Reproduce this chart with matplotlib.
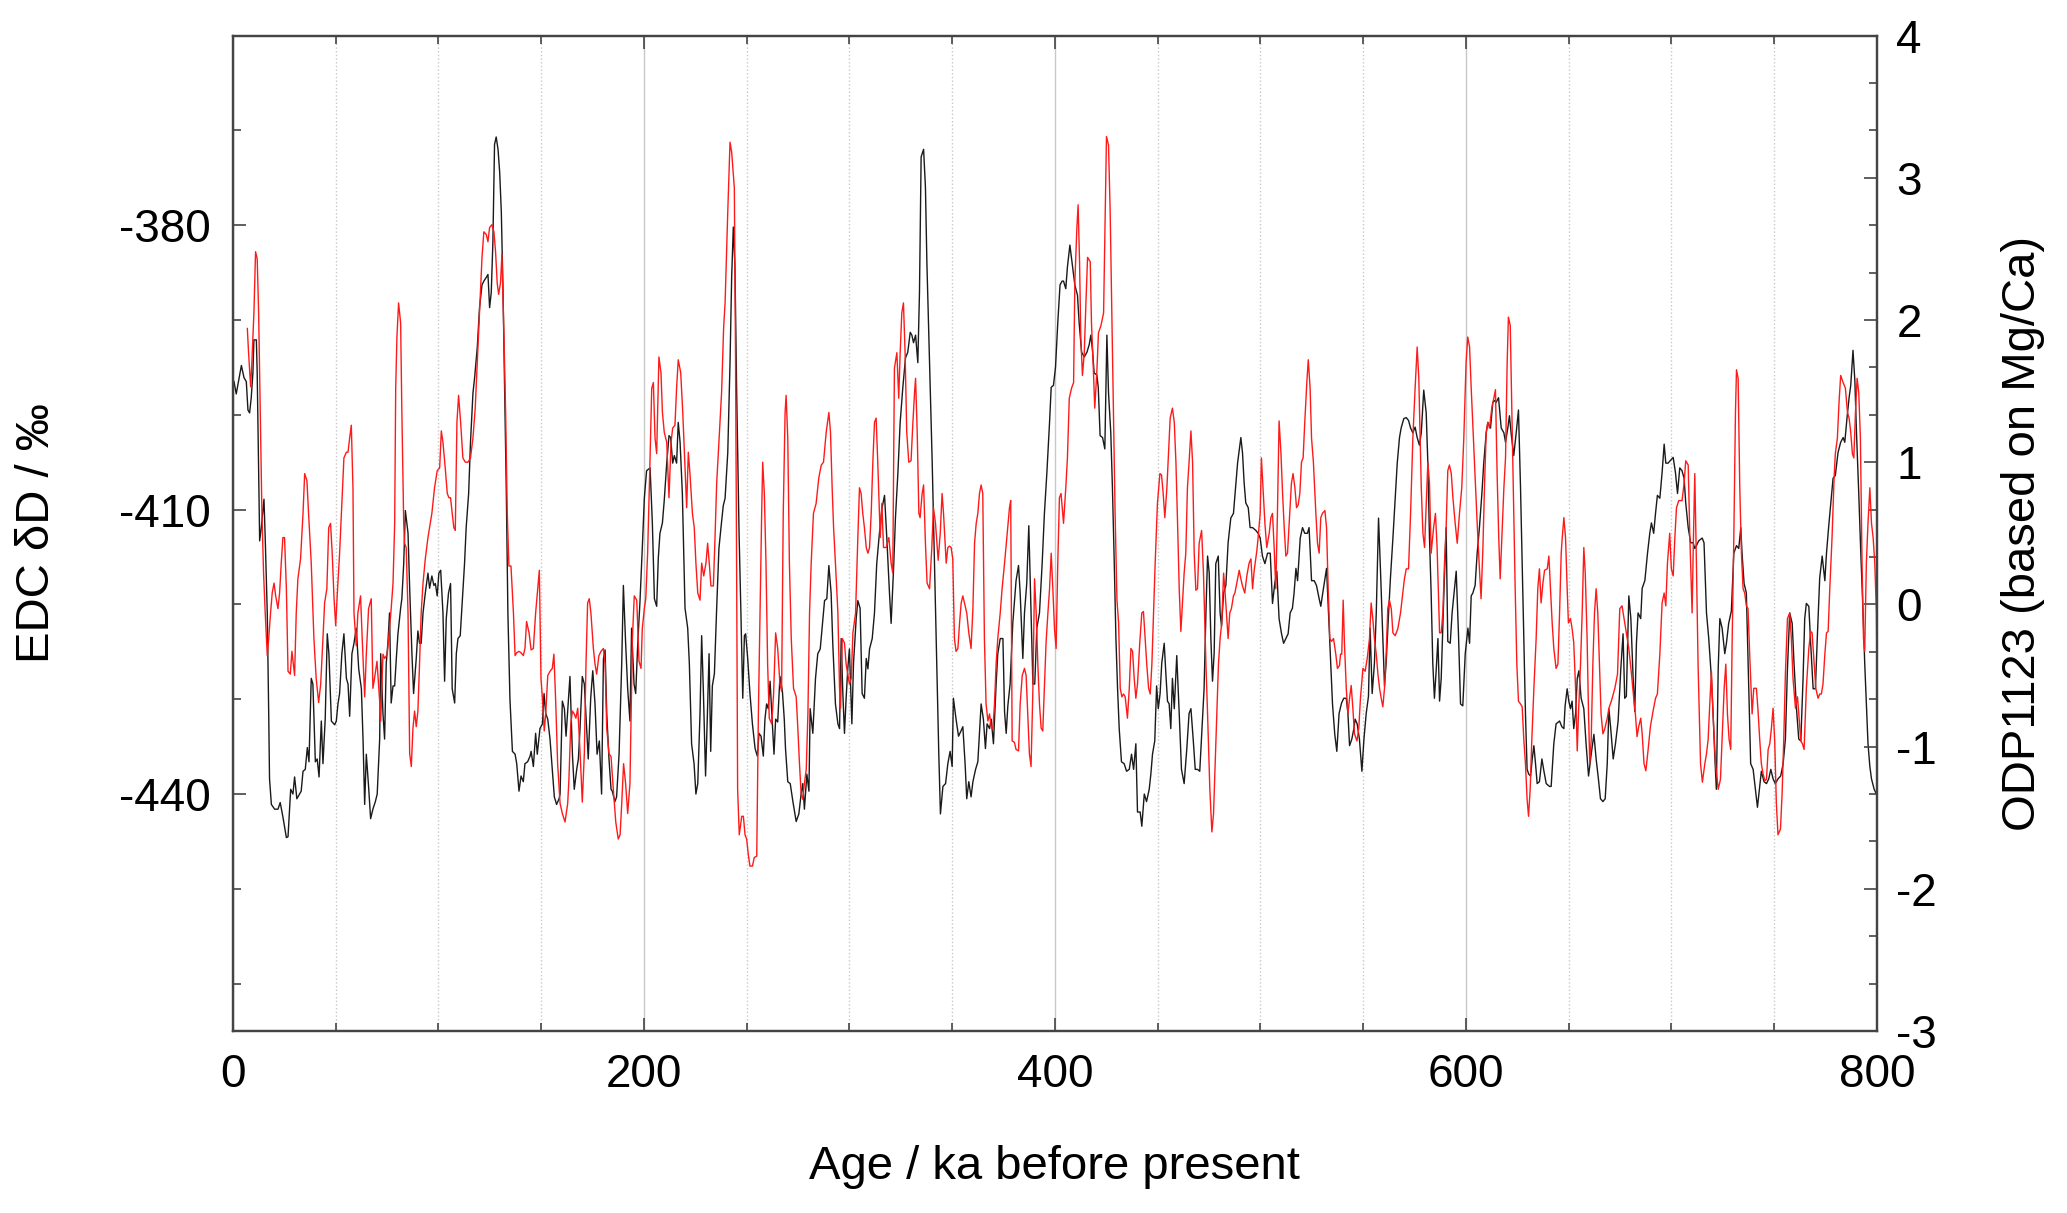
import matplotlib
matplotlib.use("Agg")
import matplotlib.pyplot as plt
from matplotlib.ticker import MultipleLocator, FixedLocator

plt.rcParams['font.family'] = ['Liberation Sans', 'DejaVu Sans']
plt.rcParams['axes.unicode_minus'] = False

# EDC deuterium (black, left axis), age in ka
edc_age = [
    0.5, 1.6, 4.1, 5.4, 6.5, 7.3, 8.1, 8.9, 9.7, 10.2, 11.4, 11.8, 13.0, 13.8, 15.1, 15.7, 16.7, 17.4, 17.8, 18.7,
    20.3, 21.9, 23.0, 24.3, 26.0, 26.8, 28.1, 29.2, 30.0, 31.1, 32.4, 33.2, 34.1, 35.2, 36.2, 37.0, 38.1, 38.9, 40.1, 41.0,
    41.9, 43.0, 43.8, 44.9, 45.9, 46.7, 47.9, 49.5, 50.3, 51.1, 51.9, 53.0, 54.0, 55.2, 56.0, 56.8, 57.9, 58.9, 60.0, 61.2,
    62.5, 63.3, 64.1, 64.9, 66.0, 67.0, 68.1, 69.3, 70.2, 71.4, 71.9, 73.0, 73.8, 74.6, 75.4, 76.2, 77.0, 77.9, 78.7, 79.5,
    80.3, 81.6, 82.2, 83.1, 83.9, 85.2, 86.0, 87.1, 87.9, 89.2, 90.0, 90.8, 91.6, 92.5, 93.6, 94.9, 95.7, 96.8, 97.8, 98.5,
    99.4, 100.2, 101.1, 102.2, 103.0, 103.8, 104.9, 105.9, 106.7, 107.9, 108.7, 109.5, 110.6, 111.4, 112.7, 113.5, 114.7,
    115.6, 116.8, 117.6, 118.9, 120.0, 121.2, 122.1, 123.3, 124.1, 124.9, 125.7, 126.5, 127.3, 128.1, 129.0, 129.8, 130.6,
    131.4, 132.2, 133.0, 133.8, 134.8,
    136.0, 137.3, 138.1, 139.2, 140.2, 141.3, 142.1, 143.4, 144.6, 145.1, 146.2, 147.3, 148.1, 149.4, 150.6, 151.4, 152.2,
    153.2, 154.3, 155.4, 156.4, 157.5, 158.7, 159.2, 160.3, 161.3, 162.1, 163.2, 164.0, 165.2, 166.1, 167.3, 168.1, 168.9,
    170.0, 171.0, 172.1, 172.9, 174.1, 175.1, 176.2, 177.2, 178.3, 179.4, 180.3, 181.1, 181.9, 183.0, 184.0, 184.6, 185.9,
    186.7, 187.9, 189.2, 190.0, 191.1, 192.1, 193.2, 194.0, 195.2, 196.0, 197.0, 198.1, 199.2, 200.2, 201.3, 203.0, 204.1,
    205.1, 206.2, 207.0, 207.8, 209.0, 209.9, 211.1, 212.2, 213.0, 214.0, 214.8, 215.9, 216.7, 217.6, 218.7, 220.0, 221.3,
    222.1, 223.2, 224.4, 225.3, 226.2, 227.3, 228.1, 228.9, 230.0, 230.9, 231.7, 232.5, 233.3, 234.3, 235.4, 236.5, 237.5,
    238.6, 239.5, 240.8, 241.9, 242.7, 243.5, 244.3, 245.1, 246.3, 247.2, 248.1, 248.9, 249.5, 250.5, 251.6, 252.8, 254.1,
    255.2, 256.0, 257.0, 258.1, 258.9, 259.7, 260.5, 261.4, 262.2, 263.3, 264.1, 265.1, 266.2, 267.4, 268.3,
    268.9, 270.0, 271.2, 272.5, 274.1, 275.4, 276.5, 277.3, 278.1, 279.3, 280.3, 280.9, 282.2, 283.5, 284.6, 285.8, 286.7,
    287.9, 289.0, 290.0, 291.1, 291.9, 293.2, 294.4, 295.2, 296.0, 296.8, 297.6, 298.4, 299.2, 300.0, 301.2, 302.0, 303.3,
    304.1, 305.2, 306.2, 307.3, 308.2, 309.0, 309.8, 311.1, 312.2, 313.3, 314.6, 315.9, 317.1, 318.2, 319.5, 320.3, 321.5,
    322.4, 323.6, 324.7, 326.0, 327.3, 328.4, 329.6, 330.4, 331.2, 332.2, 333.3, 334.1, 334.9, 336.1, 337.0, 337.7, 339.0,
    340.3, 341.4, 342.5, 343.5, 344.3, 345.5, 346.8, 347.9, 349.0, 350.0, 350.6, 351.9, 353.1, 354.2, 355.2, 356.3, 357.1,
    358.1, 359.2, 360.1, 361.4, 362.5, 364.1, 365.2, 366.2, 367.0, 368.2, 369.0, 370.1, 371.4, 372.2, 373.4, 374.7, 375.5,
    376.3, 377.1, 378.2, 379.5, 381.1, 382.3, 383.1, 384.4, 385.2, 386.3, 387.3, 388.4, 389.3, 390.2, 391.2, 392.5, 393.8,
    394.9, 396.1, 397.4, 398.2, 399.3, 400.3, 401.4, 402.5, 403.5,
    404.2, 405.3, 406.1, 407.3, 408.6, 409.7, 411.0, 411.8, 413.0, 414.3, 415.6, 416.7, 417.5, 418.3, 419.1, 420.4, 421.1,
    422.0, 423.2, 424.3, 425.3, 426.1, 427.2, 428.0, 428.9, 429.7, 430.5, 431.3, 432.4, 433.7, 434.9, 436.2, 437.3, 438.3,
    439.4, 440.2, 441.5, 442.3, 443.5, 444.6, 445.9, 446.7, 447.5, 448.6, 449.5, 450.3, 451.2, 452.0, 453.2, 454.0, 454.8,
    455.6, 456.4, 457.2, 458.1, 459.3, 460.5, 461.6, 462.9, 464.2, 465.3, 466.2, 467.3, 468.3, 469.4, 470.5, 471.3, 472.6,
    473.5, 474.3, 475.1, 475.9, 476.7, 477.5, 478.3, 479.5, 480.4, 481.1, 482.1, 483.2, 484.3, 485.6, 486.9, 488.1, 488.9,
    490.5, 491.3, 492.1, 492.9, 494.1, 495.0, 496.2, 497.8, 498.9, 499.9, 501.0, 502.2, 503.5, 504.8, 505.9, 507.0, 508.0,
    509.1, 510.3, 511.3, 512.4, 513.5, 514.5, 515.6, 516.4, 517.3, 518.1, 519.4, 520.5, 521.6, 522.9, 523.7, 524.9, 526.2,
    527.3, 528.6, 529.4, 530.7, 532.2, 533.5, 534.3, 535.1, 536.2, 537.2, 538.3, 539.5,
    540.6, 541.8, 542.6, 543.4, 544.5, 545.5, 546.1, 547.1, 548.2, 549.4, 550.4, 551.5, 552.6, 553.4, 554.4, 555.5, 556.4,
    557.5, 558.5, 559.6, 560.4, 561.2, 562.4, 563.3, 564.5, 565.6, 566.6, 567.7, 568.5, 569.8, 571.0, 572.1, 573.1, 574.2,
    575.3, 576.3, 577.4, 578.3, 579.5, 580.7, 581.5, 582.3, 583.1, 583.9, 584.7, 585.6, 586.4, 587.2, 588.0, 589.3, 590.4,
    591.2, 592.4, 593.3, 594.5, 595.3, 596.4, 597.4, 598.5, 599.7, 601.0, 601.8, 602.6, 603.4, 604.5, 605.5, 606.6, 607.8,
    608.7, 609.9, 610.7, 612.0, 613.1, 613.9, 614.7, 615.9, 617.2, 618.5, 619.3, 620.4, 621.2, 622.0, 623.3, 624.5, 625.6,
    626.6, 627.4, 628.2, 629.0, 629.8, 630.6, 631.5, 632.3, 633.1, 633.9, 634.7, 635.8, 637.0, 638.0, 639.1, 640.7, 641.5,
    642.8, 643.9, 645.6, 646.7, 647.7, 648.3, 649.3, 650.1, 650.9, 651.7, 652.5, 653.4, 654.2, 655.0, 656.1, 657.4, 658.5,
    659.7, 661.0, 662.3, 663.4, 664.5, 665.5, 666.7, 667.8, 668.8, 669.6,
    670.5, 671.7, 672.8, 674.1, 675.4, 676.5, 677.3, 678.1, 679.3, 680.3, 681.4, 682.2, 683.0, 683.8, 685.1, 685.8, 687.1,
    688.4, 689.5, 690.3, 691.4, 692.3, 693.2, 694.4, 695.5, 696.5, 697.3, 698.4, 699.6, 700.9, 702.0, 703.0, 704.1, 705.2,
    706.2, 707.0, 708.2, 709.4, 710.6, 711.4, 712.2, 713.3, 715.0, 715.9, 717.1, 718.2, 719.5, 720.3, 721.1, 721.9, 722.8,
    723.6, 724.7, 726.0, 726.8, 727.9, 729.2, 730.4, 731.7, 732.8, 733.8, 734.4, 735.4, 736.5, 737.7, 738.6, 739.8, 740.9,
    741.9, 743.0, 743.8, 745.1, 746.3, 747.4, 748.4, 749.5, 750.6, 751.9, 753.2, 754.4, 755.5, 756.5, 757.6, 758.8, 759.7,
    760.9, 762.0, 763.0, 764.1, 764.9, 765.7, 766.9, 767.8, 769.0, 770.1, 771.1, 772.2, 773.4, 774.7, 775.5, 776.6, 777.6,
    778.7, 779.8, 781.1, 782.4, 783.6, 784.4, 785.5, 786.5, 787.3, 788.4, 789.3, 790.1, 791.2, 792.2, 793.3, 794.1, 794.9,
    795.7, 796.6, 797.4, 798.7, 799.8,
]
edc_dD = [
    -396.5, -397.8, -394.8, -396.1, -396.5, -399.5, -399.8, -398.2, -395.6, -392.1, -392.1, -395.6, -413.3, -411.9, -408.9,
    -413.0, -420.9, -431.5, -438.4, -441.1,
    -441.6, -441.6, -440.9, -442.4, -444.6, -444.5, -439.5, -440.0, -438.2, -440.5, -440.0, -439.7, -437.6, -437.4, -435.1,
    -436.6, -427.8, -428.4, -436.6, -436.3,
    -438.2, -432.3, -436.8, -432.1, -423.1, -425.2, -432.3, -432.7, -432.3, -430.5, -429.4, -425.2, -423.1, -427.8, -428.4,
    -431.8, -425.2, -424.1, -422.5, -426.8,
    -428.9, -434.2, -441.1, -435.8, -439.2, -442.6, -441.6, -440.8, -440.0, -434.2, -425.2, -431.5, -434.2, -426.2, -424.1,
    -420.9, -430.4, -428.6, -428.6, -425.7,
    -423.1, -420.4, -419.4, -415.7, -410.1, -412.5, -418.3, -425.2, -429.4, -425.7, -422.8, -424.1, -424.1, -420.9, -418.8,
    -416.7, -418.3, -417.0, -418.0, -417.8,
    -419.1, -416.7, -416.4, -420.9, -428.1, -421.5, -418.8, -417.8, -428.9, -430.4, -425.2, -423.6, -423.3, -420.4, -415.7,
    -411.9, -408.3,
    -402.9, -397.7, -396.1, -392.9, -388.7, -386.3, -385.9, -385.5, -385.2, -388.7, -387.1, -381.8, -371.5, -370.7, -372.0,
    -374.4, -378.6,
    -386.6, -397.1, -407.7, -420.9, -430.0,
    -435.5, -435.8, -436.8, -439.7, -438.1, -438.7, -436.8, -436.6, -436.0, -435.5, -437.1, -433.6, -435.8, -433.1, -432.6,
    -429.4, -431.5,
    -432.1, -434.2, -437.4, -440.3, -441.1, -440.5, -440.0, -430.2, -431.0, -433.9, -430.2, -427.6, -435.8, -439.5, -437.4,
    -436.3, -433.1,
    -427.6, -428.4, -433.1, -436.3, -429.9, -427.0, -430.5, -435.8, -434.4, -440.0, -425.7, -424.8, -431.5, -436.3, -439.5,
    -439.7, -440.8,
    -440.3, -435.8, -426.2, -418.0, -424.1, -428.9, -432.3, -422.5, -428.4, -429.4, -424.1, -419.6, -414.1, -408.8, -405.9,
    -405.6, -411.4,
    -419.4, -420.2, -415.1, -412.5, -411.4, -409.0, -405.1, -402.2, -402.4, -405.1, -404.3, -405.1, -400.8, -402.9, -408.3,
    -420.4, -422.5,
    -426.2, -434.7, -436.8, -440.0, -438.9, -431.5, -423.3, -428.9, -438.1, -431.5, -425.2, -435.5, -428.6, -427.3, -420.4,
    -414.1, -411.9,
    -409.6, -408.8, -404.0, -394.5, -385.5, -380.2, -384.4, -397.1, -412.5, -420.9, -429.9, -423.3, -423.1, -425.7, -429.4,
    -432.6, -435.2,
    -436.0, -433.6, -433.9, -436.0, -432.1, -430.5, -431.0, -428.1, -431.3, -435.8, -432.1, -432.4, -427.6, -429.2, -432.1,
    -435.2, -438.7, -438.9, -440.8, -442.9, -442.1, -440.0, -438.9, -441.6, -437.9, -439.7, -431.0, -433.6, -427.8, -425.2,
    -424.7, -422.5,
    -419.6, -419.4, -415.9, -418.8, -424.1, -430.5, -432.6, -433.1, -423.6, -429.4, -433.6, -429.9, -426.8, -424.7, -432.6,
    -426.2, -421.5,
    -419.6, -420.4, -429.4, -429.9, -425.7, -426.8, -424.7, -423.6, -420.9, -415.7, -412.5, -409.8, -408.5, -413.0, -418.8,
    -422.0, -416.2,
    -410.9, -406.1, -400.8, -397.1, -394.0, -393.4, -391.3, -391.6, -392.4, -391.6, -394.5, -387.1, -372.8, -372.0, -376.0,
    -383.9, -394.5,
    -405.1, -415.7, -426.2, -435.8, -442.1, -439.2, -438.9, -436.8, -435.5, -437.1, -429.9, -432.1, -433.9, -433.4, -432.9,
    -436.8, -440.5,
    -438.7, -440.3, -438.7, -437.4, -436.6, -430.5, -432.1, -435.2, -432.6, -433.1, -432.1, -434.7, -428.4, -425.2, -423.6,
    -423.6, -431.3,
    -433.6, -430.7, -428.4, -422.0, -417.5, -415.9, -418.8, -425.7, -420.9, -417.8, -411.7, -420.9, -428.4, -428.4, -422.5,
    -420.9, -415.7,
    -410.4, -406.1, -400.8, -397.1, -396.9, -395.0, -390.3, -386.3, -385.9,
    -385.9, -386.7, -384.4, -382.1, -384.4, -386.3, -387.4, -390.3, -393.4, -393.9, -393.4, -392.6, -391.6, -393.2, -395.6,
    -395.8, -397.1,
    -402.2, -402.4, -403.6, -391.6, -397.7, -401.9, -407.7, -415.7, -423.6, -428.9, -433.1, -436.6, -436.8, -437.6, -437.4,
    -435.8, -437.4,
    -434.7, -441.9, -441.9, -443.4, -440.0, -440.8, -439.5, -437.9, -435.8, -434.4, -428.6, -431.0, -429.4, -426.2, -424.1,
    -427.3, -430.2,
    -430.5, -433.1, -427.8, -431.0, -425.4, -431.5, -437.4, -438.9, -435.2, -431.5, -431.0, -434.2, -437.4, -437.4, -437.6,
    -434.2, -428.9,
    -420.9, -414.9, -416.7, -423.6, -428.1, -425.2, -415.7, -414.9, -420.9, -422.3, -418.8, -418.0, -413.5, -410.9, -410.4,
    -407.2, -405.1,
    -402.4, -404.0, -407.2, -409.3, -409.8, -411.9, -411.9, -412.2, -412.5, -413.0, -414.9, -415.7, -414.6, -414.6, -419.9,
    -417.8, -416.5,
    -421.5, -423.1, -424.1, -423.6, -423.1, -420.9, -420.4, -418.8, -416.2, -417.5, -413.0, -411.9, -412.5, -412.5, -411.9,
    -417.5, -417.5,
    -418.0, -419.4, -420.2, -418.3, -416.2, -422.5, -426.2, -430.5, -433.7, -435.5, -431.5, -430.4,
    -429.9, -429.9, -431.5, -434.9, -434.2, -433.1, -432.1, -432.6, -434.2, -437.6, -434.2, -431.5, -429.7, -422.5, -429.4,
    -426.2, -420.9,
    -410.9, -416.7, -423.6, -428.6, -426.2, -420.9, -417.2, -413.0, -408.8, -405.1, -402.4, -401.4, -400.4, -400.3, -400.6,
    -401.4, -401.9,
    -401.3, -402.4, -403.2, -401.9, -397.4, -399.8, -405.1, -413.0, -418.8, -426.2, -429.9, -426.8, -423.6, -430.2, -427.8,
    -418.8, -411.9,
    -423.9, -424.1, -420.9, -418.3, -416.5, -423.1, -430.5, -430.7, -425.2, -422.5, -424.1, -419.1, -418.8, -418.0, -414.6,
    -411.9, -408.3,
    -405.1, -401.9, -400.8, -401.4, -398.7, -398.5, -398.7, -398.2, -401.4, -401.9, -402.9, -401.4, -400.1, -401.9, -404.3,
    -401.9, -399.5,
    -407.7, -415.7, -423.6, -431.5, -437.4, -437.9, -438.1, -436.3, -434.9, -436.8, -438.9, -438.7, -436.3, -437.6, -438.9,
    -439.2, -439.2,
    -434.7, -432.6, -432.3, -432.9, -433.1, -430.7, -428.9, -430.2, -431.0, -430.2, -433.1, -431.5, -427.8, -427.0, -429.9,
    -431.0, -434.7,
    -438.1, -435.8, -433.7, -436.3, -438.4, -440.5, -440.8, -440.5, -436.8, -431.0,
    -433.1, -436.3, -434.7, -432.3, -426.8, -423.1, -429.9, -429.7, -419.1, -421.5, -427.8, -431.3, -424.1, -420.9, -421.5,
    -418.3, -417.5,
    -414.6, -412.5, -411.4, -412.5, -410.4, -408.5, -408.8, -406.1, -403.1, -405.1, -405.1, -404.8, -404.5, -406.1, -408.3,
    -405.6, -405.9,
    -406.7, -409.3, -411.9, -413.5, -413.5, -414.1, -413.8, -413.3, -413.0, -413.5, -420.9, -423.6, -427.8, -431.5, -435.8,
    -439.5, -426.8,
    -421.5, -422.5, -425.2, -424.1, -422.0, -420.7, -414.6, -413.8, -414.1, -411.9, -414.6, -417.8, -418.8, -428.9, -436.8,
    -437.4, -439.5,
    -441.4, -439.2, -437.6, -438.7, -438.9, -438.4, -437.4, -438.4, -438.9, -438.4, -438.1, -436.8, -434.2, -426.8, -420.9,
    -422.0, -426.2,
    -431.0, -434.2, -434.4, -427.8, -421.5, -419.9, -420.2, -424.1, -428.9, -428.9, -423.1, -417.2, -414.9, -417.5, -414.6,
    -411.7, -409.3,
    -406.7, -406.4, -404.0, -402.9, -402.4, -402.9, -400.3, -398.2, -396.9, -393.2, -396.4, -401.9, -408.3, -414.6, -420.9,
    -426.2, -430.5,
    -434.7, -437.1, -438.4, -439.5, -440.0,
]

# ODP1123 Mg/Ca temperature anomaly (red, right axis)
odp_age = [
    7.0, 7.6, 8.6, 9.2, 10.2, 11.0, 11.8, 12.5, 13.3, 14.1, 14.9, 15.7, 16.7, 17.4, 18.3, 19.1, 20.0, 20.8, 21.9, 22.7,
    23.5, 24.3, 25.1, 26.0, 26.8, 27.9, 28.7, 30.0, 30.8, 31.6, 32.9, 34.1, 34.9, 36.0, 36.8, 38.1, 39.4, 40.5, 41.7, 42.7,
    43.8, 44.6, 45.7, 46.6, 47.5, 48.3, 49.2, 50.0, 50.8, 51.9, 53.0, 54.0, 55.2, 56.0, 56.8, 57.6, 58.4, 58.9, 60.0, 60.8,
    62.1, 62.9, 64.1, 64.9, 66.0, 67.3, 68.1, 68.9, 70.1, 71.4, 71.9, 73.0, 73.8, 75.1, 76.2, 77.0, 77.9, 78.7, 79.2, 79.8,
    80.6, 81.6, 82.2, 83.1, 83.5, 84.3, 85.2, 86.0, 86.8, 87.6, 88.4, 89.2, 90.0, 90.8, 91.6, 92.5, 93.6, 94.9, 96.0, 96.8,
    98.1, 99.4, 100.6, 101.4, 102.2, 103.3, 104.3, 105.1, 105.9, 106.7, 107.5, 108.2, 109.0, 109.8, 110.8, 111.9, 113.1,
    114.4, 115.6, 116.8, 117.9, 118.9, 120.0, 121.2, 122.1, 123.3, 124.1, 124.9, 126.0, 127.0, 127.8, 128.6, 129.3, 130.2,
    130.9, 131.9, 132.7, 133.5, 134.3,
    135.3, 136.5, 137.3, 138.1, 139.2, 140.2, 141.3, 142.1, 142.9, 144.1, 145.1, 146.2, 147.3, 148.3, 149.1, 149.9, 150.6,
    151.5, 152.2, 153.2, 154.3, 155.4, 156.2, 157.1, 158.0, 159.2, 160.3, 161.6, 162.9, 163.5, 164.4, 165.2, 166.1, 166.9,
    167.8, 168.6, 169.4, 170.0, 171.0, 171.8, 172.6, 173.4, 174.2, 175.4, 176.2, 177.0, 178.1, 179.1, 180.3, 181.1, 181.9,
    183.0, 184.0, 185.1, 186.3, 187.5, 188.4, 189.2, 190.1, 191.1, 192.1, 193.2, 193.7, 194.4, 195.3, 196.5, 197.6, 198.6,
    199.2, 200.2, 200.9, 201.8, 202.8, 203.8, 204.6, 205.4, 206.2, 207.3, 208.3, 209.0, 209.9, 211.1, 212.2, 213.2, 214.0,
    215.1, 215.9, 216.7, 217.9, 218.9, 219.7, 220.8, 221.6, 222.4, 223.6, 224.5, 225.3, 226.2, 227.3, 228.1, 229.1, 230.2,
    231.0, 231.8, 232.6, 233.8, 234.6, 235.4, 236.5, 237.8, 238.8, 239.5, 240.8, 241.9, 242.7, 244.0, 244.6, 245.1, 245.6,
    246.4, 247.6, 248.4, 249.2, 250.0, 250.8, 251.6, 252.8, 253.7, 254.9, 255.7, 256.5, 257.3, 257.8, 258.6, 259.4, 260.2,
    261.0, 262.2, 263.1, 264.1, 265.1, 266.2, 267.0, 267.8, 268.7,
    269.2, 270.0, 270.8, 271.7, 272.8, 274.1, 274.9, 275.7, 276.5, 277.3, 278.1, 279.0, 279.8, 280.6, 281.4, 282.5, 283.8,
    285.1, 286.3, 287.4, 288.7, 290.0, 290.8, 291.6, 292.3, 293.2, 294.4, 295.2, 295.7, 296.5, 297.6, 298.4, 299.2, 300.0,
    300.9, 301.7, 303.0, 304.1, 304.9, 305.7, 306.5, 307.3, 308.2, 309.0, 309.8, 310.6, 311.4, 312.2, 313.0, 313.8, 315.0,
    315.8, 316.6, 317.9, 319.2, 320.3, 321.1, 321.9, 323.1, 324.0, 324.7, 325.5, 326.3, 327.1, 327.9, 328.9, 330.0, 330.9,
    331.7, 332.2, 333.0, 333.8, 334.4, 335.4, 336.1, 337.0, 337.8, 339.0, 340.1, 340.9, 341.9, 343.2, 344.2, 345.1, 345.8,
    347.1, 347.9, 348.7, 349.5, 350.3, 351.1, 351.9, 352.8, 353.6, 354.4, 355.2, 356.0, 357.1, 358.1, 359.2, 360.1, 360.9,
    361.7, 362.5, 363.3, 364.1, 364.9, 365.7, 366.5, 367.4, 368.2, 369.0, 369.8, 370.6, 371.4, 372.2, 373.4, 374.3, 375.5,
    376.6, 377.9, 378.5, 379.2, 380.3, 381.1, 382.3, 383.1, 384.1, 385.2, 386.0, 386.8, 387.6, 388.4, 389.3, 390.1, 390.9,
    391.7, 392.5, 393.3, 394.1, 394.9, 395.7, 396.6, 397.4, 398.2, 399.0, 399.8, 400.6, 401.4, 402.2, 403.0,
    404.2, 405.3, 406.1, 407.0, 408.1, 409.1, 409.7, 410.7, 411.3, 412.0, 412.6, 413.4, 414.3, 415.1, 415.9, 417.2, 417.8,
    418.6, 419.4, 420.4, 421.2, 422.4, 423.7, 424.5, 425.1, 426.1, 426.9, 427.7, 428.5, 429.3, 430.2, 431.0, 431.8, 432.6,
    433.4, 434.2, 435.3, 436.2, 437.0, 437.8, 438.6, 439.4, 440.2, 441.3, 442.3, 443.1, 443.9, 444.7, 445.6, 446.4, 447.2,
    448.0, 448.8, 449.9, 451.1, 451.9, 452.7, 453.5, 454.5, 455.1, 456.1, 457.2, 458.1, 458.9, 459.7, 460.5, 461.3, 462.1,
    462.9, 463.7, 464.5, 465.3, 466.2, 467.0, 467.8, 468.6, 469.4, 470.2, 471.4, 472.3, 473.5, 474.3, 475.4, 476.4, 477.2,
    478.0, 478.8, 479.6, 480.4, 481.2, 482.1, 482.7, 483.5, 484.3, 485.1, 485.9, 486.9, 487.6, 488.5, 489.7, 490.5, 491.3,
    492.4, 493.4, 494.5, 495.4, 496.2, 497.0, 498.3, 498.9, 499.9, 500.5, 501.4, 502.2, 503.1, 504.3, 505.1, 505.9, 506.7,
    507.5, 508.3, 509.1, 510.0, 510.8, 511.6, 512.4, 513.2, 514.0, 515.1, 515.9, 516.8, 517.6, 518.4, 519.2, 520.0, 520.8,
    521.6, 522.6, 523.3, 524.2, 524.9, 525.8, 527.0, 527.8, 528.6, 529.4, 530.2, 531.4, 532.2, 533.0, 533.8, 534.6, 535.6,
    536.7, 537.5, 538.5,
    539.0, 539.6, 540.3, 540.9, 541.8, 542.6, 543.4, 544.2, 545.0, 545.8, 547.0, 547.9, 548.7, 549.9, 551.0, 552.0, 553.1,
    553.9, 554.7, 555.5, 556.4, 557.2, 558.0, 558.8, 559.6, 560.4, 561.2, 562.0, 562.8, 563.7, 564.5, 565.6, 566.9, 568.2,
    569.3, 570.1, 571.0, 572.1, 573.1, 574.2, 575.3, 576.3, 577.1, 578.3, 579.1, 579.9, 580.7, 581.5, 582.3, 583.1, 584.3,
    585.2, 586.0, 587.2, 588.0, 588.8, 589.6, 590.4, 591.2, 592.0, 592.9, 593.7, 594.8, 595.8, 596.9, 598.0, 599.0, 600.1,
    600.9, 601.8, 602.6, 604.2, 605.5, 606.6, 607.4, 608.3, 609.1, 609.9, 610.7, 611.5, 612.6, 613.6, 614.4, 615.2, 616.0,
    616.7, 617.5, 618.5, 619.3, 620.1, 620.7, 621.6, 622.4, 623.2, 624.0, 624.8, 625.6, 626.6, 627.4, 628.2, 629.0, 629.8,
    630.5, 631.3, 632.1, 633.1, 634.2, 635.0, 635.8, 636.6, 637.5, 638.3, 639.6, 640.4, 641.2, 642.0, 642.8, 643.9, 644.8,
    645.6, 646.4, 646.9, 647.7, 648.5, 649.3, 649.9, 650.9, 651.7, 652.5, 653.4, 654.2, 654.8, 655.8, 656.6, 657.4, 658.1,
    659.0, 659.7, 660.3, 661.0, 661.8, 662.6, 663.4, 664.2, 665.0, 665.8, 666.7, 667.5, 668.8,
    669.6, 670.8, 672.5, 673.8, 674.9, 676.0, 677.0, 678.1, 679.3, 680.6, 681.7, 682.5, 683.3, 684.1, 685.1, 685.8, 686.7,
    687.6, 688.7, 689.8, 691.1, 692.3, 693.2, 694.4, 695.5, 696.5, 697.3, 698.1, 699.2, 700.0, 700.9, 701.7, 702.5, 703.6,
    705.2, 706.2, 707.0, 708.2, 709.0, 710.1, 710.7, 711.4, 712.2, 713.0, 714.2, 715.1, 716.3, 717.1, 717.9, 718.7, 719.5,
    720.3, 721.5, 722.8, 723.9, 724.7, 725.7, 726.5, 727.3, 728.1, 728.9, 729.6, 730.4, 731.2, 731.7, 732.5, 733.3, 734.1,
    734.9, 735.7, 736.5, 737.3, 738.2, 739.3, 740.1, 741.4, 742.2, 743.0, 743.8, 744.6, 745.5, 746.3, 747.1, 747.9, 748.7,
    749.5, 750.3, 751.1, 751.9, 753.1, 753.9, 754.7, 755.5, 756.5, 757.6, 758.4, 759.2, 760.4, 761.4, 762.0, 763.0, 763.8,
    764.6, 765.7, 766.9, 767.8, 768.5, 769.5, 770.3, 771.4, 772.2, 773.0, 773.8, 774.7, 775.5, 776.3, 777.1, 778.2, 779.2,
    779.8, 780.8, 781.6, 782.4, 783.6, 784.7, 785.7, 786.5, 787.3, 788.1, 788.8, 789.6, 790.4, 791.2, 792.0, 792.8, 793.5,
    794.1, 794.9, 795.7, 796.6, 797.4, 798.2, 799.0, 799.8, 800.0,
]
odp_sst = [
    1.94, 1.77, 1.53, 1.70, 2.05, 2.48, 2.43, 2.05, 1.35, 0.64, 0.22, -0.06, -0.36, -0.24, -0.06, 0.08, 0.15, 0.06, -0.03,
    0.08, 0.29, 0.47, 0.47, 0.11, -0.47, -0.49, -0.33, -0.50, -0.06, 0.18, 0.32, 0.64, 0.92, 0.87, 0.64, 0.29, -0.24, -0.52,
    -0.69, -0.56, -0.24, 0.01, 0.11, 0.54, 0.57, 0.36, 0.04, -0.15, 0.08, 0.36, 0.71, 1.03, 1.07, 1.07, 1.17, 1.26, 0.82,
    -0.06, -0.29, -0.06, 0.06, -0.24, -0.65, -0.35, -0.03, 0.04, -0.59, -0.52, -0.40, -0.68, -0.82, -0.35, -0.38, -0.35,
    -0.17, -0.03, 0.15, 0.57, 1.52, 1.88, 2.12, 1.98, 1.35, 0.57, 0.43, 0.40, -0.06, -1.05, -1.14, -0.87, -0.75, -0.86,
    -0.75, -0.42, -0.06, 0.15, 0.32, 0.47, 0.57, 0.64, 0.82, 0.94, 0.96, 1.22, 1.14, 0.96, 0.78, 0.75, 0.75, 0.64, 0.54,
    0.52, 1.28, 1.47, 1.28, 1.03, 1.00, 1.00, 1.03, 1.17, 1.38, 1.70, 2.05, 2.44, 2.62, 2.60, 2.55, 2.65, 2.67, 2.62, 2.48,
    2.26, 2.18, 2.26, 2.46, 1.88, 1.35, 0.64, 0.27,
    0.27, -0.06, -0.36, -0.34, -0.33, -0.34, -0.36, -0.31, -0.12, -0.20, -0.32, -0.31, -0.06, 0.11, 0.24, -0.52, -0.66,
    -0.89, -0.77, -0.50, -0.47, -0.45, -0.35, -0.70, -1.12, -1.40, -1.47, -1.53, -1.40, -1.23, -0.84, -0.75, -0.77, -0.80,
    -0.73, -0.95, -1.19, -1.39, -1.05, -0.42, 0.01, 0.04, -0.06, -0.31, -0.42, -0.49, -0.36, -0.33, -0.31, -0.42, -0.87,
    -1.05, -1.07, -1.30, -1.53, -1.65, -1.62, -1.40, -1.12, -1.26, -1.47, -1.26, -0.84, -0.24, 0.06, 0.03, -0.40, -0.45,
    -0.17, -0.03, 0.04, 0.36, 0.92, 1.52, 1.56, 1.17, 1.06, 1.74, 1.63, 1.35, 1.21, 1.14, 0.75, 1.14, 1.24,
    1.26, 1.52, 1.72, 1.63, 1.35, 1.07, 0.68, 1.07, 0.92, 0.64, 0.54, 0.29, 0.08, 0.03, 0.29, 0.20, 0.29,
    0.43, 0.29, 0.13, 0.13, 0.47, 0.85, 1.14, 1.49, 1.95, 2.12, 2.76, 3.25, 3.18, 2.93, 1.70, 0.29, -1.30,
    -1.62, -1.49, -1.49, -1.62, -1.65, -1.76, -1.84, -1.84, -1.78, -1.77, -0.77, -0.06, 0.64, 1.00, 0.78, 0.29, -0.42,
    -0.80, -0.84, -0.63, -0.20, -0.31, -0.56, -0.61, 0.64, 1.35,
    1.47, 1.17, 0.29, -0.24, -0.59, -0.65, -0.87, -1.12, -1.33, -1.37, -1.26, -1.16, -0.77, -0.06, 0.29, 0.64, 0.71,
    0.89, 0.98, 1.00, 1.21, 1.35, 1.21, 0.82, 0.54, 0.29, -0.06, -0.59, -0.73, -0.24, -0.27, -0.42, -0.49, -0.56,
    -0.52, -0.20, -0.06, 0.47, 0.82, 0.78, 0.64, 0.54, 0.40, 0.36, 0.40, 0.64, 1.00, 1.28, 1.31, 1.00, 0.47,
    0.71, 0.40, 0.40, 0.47, 0.29, 0.22, 1.66, 1.77, 1.45, 1.77, 2.05, 2.12, 1.77, 1.21, 1.00, 1.01, 1.28,
    1.49, 1.59, 1.21, 0.64, 0.61, 0.78, 0.84, 0.43, 0.15, 0.11, 0.40, 0.68, 0.57, 0.31, 0.50, 0.78, 0.64,
    0.29, 0.40, 0.41, 0.40, 0.32, -0.24, -0.33, -0.31, -0.13, 0.01, 0.06, 0.01, -0.06, -0.20, -0.31, -0.03, 0.43,
    0.57, 0.64, 0.78, 0.84, 0.78, -0.24, -0.70, -0.82, -0.77, -0.86, -0.88, -0.70, -0.42, -0.24, -0.06, 0.11, 0.29,
    0.47, 0.68, 0.73, -0.96, -0.97, -1.02, -1.03, -0.70, -0.50, -0.45, -0.50, -0.77, -1.05, -1.14, -0.59, 0.18, -0.06,
    -0.42, -0.70, -0.87, -0.89, -0.59, -0.27, -0.06, 0.11, 0.36, 0.11, -0.17, -0.31, 0.29, 0.75, 0.78,
    0.57, 0.82, 1.03, 1.45, 1.52, 1.56, 2.26, 2.65, 2.81, 2.41, 1.88, 1.61, 1.77, 2.12, 2.44, 2.41, 1.98,
    1.70, 1.38, 1.63, 1.91, 1.96, 2.05, 2.76, 3.29, 3.23, 2.76, 2.05, 1.35, 0.64, 0.03, -0.13, -0.59, -0.65,
    -0.63, -0.65, -0.80, -0.59, -0.31, -0.33, -0.52, -0.66, -0.56, -0.27, -0.06, -0.05, -0.24, -0.42, -0.59, -0.63, -0.42,
    -0.06, 0.29, 0.71, 0.92, 0.91, 0.78, 0.61, 0.82, 1.00, 1.31, 1.38, 1.28, 1.00, 0.57, 0.11, -0.19, 0.01,
    0.22, 0.36, 0.82, 1.00, 1.22, 1.00, 0.36, 0.10, 0.11, 0.43, 0.52, 0.22, -0.42, -0.77, -1.30, -1.60, -1.47,
    -1.12, -0.77, -0.42, -0.24, -0.13, 0.22, 0.11, -0.06, -0.24, -0.06, -0.03, 0.06, 0.08, 0.15, 0.24, 0.18, 0.13,
    0.08, 0.20, 0.29, 0.32, 0.11, 0.24, 0.38, 0.47, 0.64, 1.03, 0.78, 0.57, 0.40, 0.50, 0.61, 0.64, 0.40,
    0.11, 0.64, 1.29, 1.07, 0.78, 0.54, 0.34, 0.36, 0.57, 0.85, 0.92, 0.82, 0.68, 0.70, 0.78, 1.00, 1.03,
    1.28, 1.56, 1.72, 1.52, 1.17, 1.00, 0.64, 0.43, 0.36, 0.61, 0.64, 0.66, 0.54, 0.11, -0.24, -0.26, -0.24,
    -0.35, -0.45, -0.43,
    -0.35, -0.35, 0.03, -0.27, -0.59, -0.77, -0.66, -0.57, -0.73, -0.91, -0.96, -0.87, -0.66, -0.45, -0.47, -0.38, -0.24,
    0.01, -0.10, -0.24, -0.35, -0.49, -0.59, -0.66, -0.72, -0.59, -0.35, -0.03, 0.03, -0.03, -0.20, -0.22, -0.17, -0.06,
    0.08, 0.18, 0.25, 0.25, 0.64, 1.17, 1.52, 1.81, 1.59, 0.82, 0.50, 0.40, 0.71, 1.00, 0.85, 0.36, 0.54,
    0.64, 0.40, -0.20, -0.20, -0.06, 0.29, 0.54, 0.94, 0.98, 0.92, 0.75, 0.57, 0.43, 0.64, 0.82, 1.17, 1.70,
    1.88, 1.81, 1.52, 1.00, 0.57, 0.25, 0.04, 0.40, 0.85, 1.21, 1.28, 1.24, 1.38, 1.45, 1.51, 0.92, 0.47,
    0.18, 0.47, 0.82, 1.03, 1.70, 2.02, 1.96, 1.35, 0.71, 0.11, -0.42, -0.68, -0.70, -0.72, -0.95, -1.12, -1.37,
    -1.49, -1.30, -0.95, -0.59, -0.24, 0.11, 0.25, 0.01, 0.15, 0.24, 0.25, 0.34, 0.11, -0.13, -0.31, -0.45, -0.42,
    -0.06, 0.36, 0.47, 0.61, 0.47, 0.11, -0.13, -0.10, -0.17, -0.27, -0.59, -1.03, -0.77, -0.42, -0.06, 0.40, 0.22,
    -0.24, -0.77, -1.12, -0.95, -0.42, -0.06, 0.11, -0.06, -0.42, -0.77, -0.91, -0.88, -0.80,
    -0.73, -0.68, -0.59, -0.49, -0.03, -0.01, -0.10, -0.20, -0.31, -0.49, -0.66, -0.77, -0.93, -0.86, -0.80, -0.91, -1.12,
    -1.17, -1.02, -0.86, -0.75, -0.66, -0.63, -0.35, 0.01, 0.08, -0.01, 0.29, 0.50, 0.25, 0.20, 0.47, 0.68, 0.73,
    0.73, 0.85, 1.01, 0.98, 0.47, -0.06, 0.43, 0.92, 0.29, -0.42, -1.12, -1.25, -1.12, -1.05, -0.95, -0.70, -0.47,
    -0.77, -1.12, -1.30, -1.23, -0.95, -0.59, -0.42, -0.77, -0.95, -1.02, -0.24, 0.47, 1.35, 1.65, 1.59, 0.82, 0.36,
    0.11, 0.08, -0.01, -0.03, -0.38, -0.77, -0.59, -0.59, -0.75, -0.95, -1.12, -1.19, -1.24, -1.23, -1.02, -0.98, -0.87,
    -0.73, -0.96, -1.40, -1.62, -1.58, -1.33, -0.95, -0.49, -0.10, -0.06, -0.24, -0.52, -0.73, -0.65, -0.77, -0.96, -0.98,
    -1.02, -0.59, -0.31, -0.19, -0.20, -0.42, -0.59, -0.66, -0.63, -0.63, -0.56, -0.35, -0.20, -0.19, 0.11, 0.47, 0.89,
    1.06, 1.17, 1.42, 1.61, 1.56, 1.52, 1.35, 1.31, 1.21, 1.06, 1.03, 1.35, 1.59, 1.49, 1.17, 0.29, -0.24,
    -0.33, 0.29, 0.57, 0.82, 0.57, 0.47, 0.29, -0.06, -0.40,
]

left_ticks = [-440, -410, -380]

fig = plt.figure(figsize=(20.67, 12.13), dpi=100)
ax = fig.add_axes([0.1127, 0.150, 0.7953, 0.8207])
ax2 = ax.twinx()

ax.plot(edc_age, edc_dD, color='#1a1a1a', lw=1.0)
ax2.plot(odp_age, odp_sst, color='#ff1a1a', lw=1.0)

ax.set_xlim(0, 800)
ax.set_ylim(-465, -360)
ax2.set_ylim(-3, 4)

ax.xaxis.set_major_locator(MultipleLocator(200))
ax.xaxis.set_minor_locator(MultipleLocator(50))
ax.yaxis.set_major_locator(FixedLocator(left_ticks))
ax.yaxis.set_minor_locator(MultipleLocator(10))
ax2.yaxis.set_major_locator(MultipleLocator(1))
ax2.yaxis.set_minor_locator(MultipleLocator(1 / 3))

ax.grid(True, which='major', axis='x', color='#c8c8c8', lw=1.0, ls='-')
ax.grid(True, which='minor', axis='x', color='#c8c8c8', lw=1.0, ls=':')
ax.set_axisbelow(True)

spine_col = '#444444'
for a in (ax, ax2):
    for s in a.spines.values():
        s.set_color(spine_col)
        s.set_linewidth(1.6)

ax.tick_params(axis='x', which='both', direction='in', top=True, bottom=True, colors=spine_col,
               labelcolor='black', labelsize=33, pad=16)
ax.tick_params(axis='y', which='both', direction='in', left=True, right=False, colors=spine_col,
               labelcolor='black', labelsize=33, pad=16)
ax2.tick_params(axis='y', which='both', direction='in', right=True, colors=spine_col,
                labelcolor='black', labelsize=33, pad=14)
for a in (ax, ax2):
    a.tick_params(which='major', length=9.5, width=1.2)
    a.tick_params(which='minor', length=6, width=1.2)

ax.set_xlabel('Age / ka before present', fontsize=34, va='center')
ax.xaxis.set_label_coords(0.5, -0.1366)
ax.set_ylabel('EDC δD / ‰', fontsize=34, va='center')
ax.yaxis.set_label_coords(-0.1192, 0.5)
ax2.set_ylabel('ODP1123 (based on Mg/Ca)', fontsize=34, va='center')
ax2.yaxis.set_label_coords(1.0888, 0.5)

fig.savefig('out.png', dpi=100)
